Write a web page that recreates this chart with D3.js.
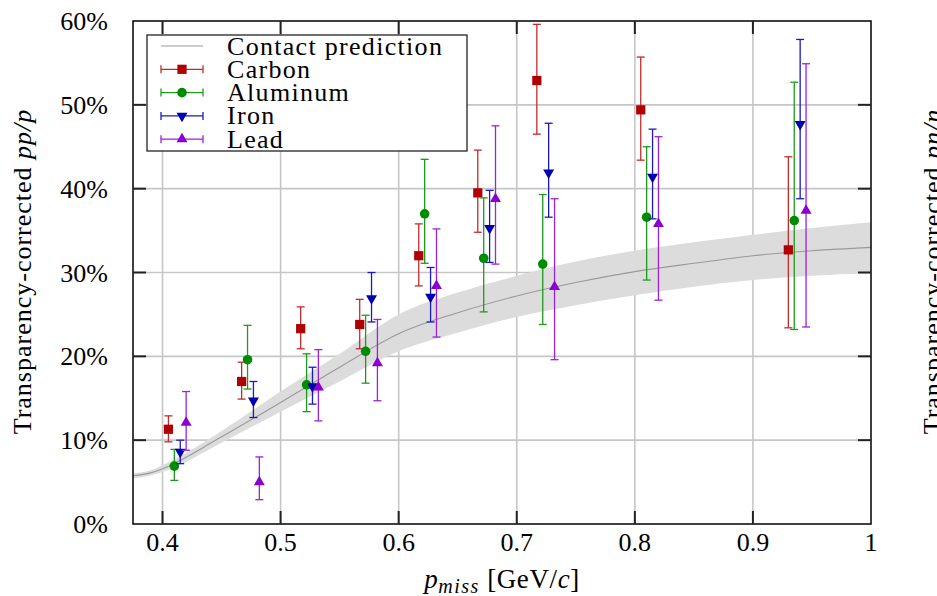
<!DOCTYPE html>
<html>
<head>
<meta charset="utf-8">
<script src="https://cdn.jsdelivr.net/npm/d3@7"></script>
<style>
  html, body { margin: 0; padding: 0; background: #fff; }
  svg { display: block; }
  text { font-family: "Liberation Serif", "DejaVu Serif", serif; fill: #000; }
</style>
</head>
<body>
<div id="root"><svg></svg></div>
<script>
const width = 937, height = 596;
const margin = {top: 21, right: 66, bottom: 72, left: 133};

// transparency-corrected ratio in percent
const carbonX  = [0.405, 0.467, 0.517, 0.567, 0.617, 0.667, 0.717, 0.805, 0.930];
const carbonY  = [11.3, 17.0, 23.3, 23.8, 32.0, 39.5, 52.9, 49.4, 32.7];
const carbonLo = [9.8, 14.9, 20.9, 20.9, 28.4, 34.8, 46.5, 43.4, 23.4];
const carbonHi = [12.9, 19.3, 25.9, 26.8, 35.8, 44.6, 59.6, 55.7, 43.8];

const aluminumX  = [0.410, 0.472, 0.522, 0.572, 0.622, 0.672, 0.722, 0.810, 0.935];
const aluminumY  = [6.9, 19.6, 16.6, 20.6, 37.0, 31.7, 31.0, 36.6, 36.2];
const aluminumLo = [5.2, 16.1, 13.4, 16.8, 31.1, 25.3, 23.8, 29.1, 23.2];
const aluminumHi = [8.9, 23.7, 20.3, 24.9, 43.5, 38.9, 39.3, 45.0, 52.7];

const ironX  = [0.415, 0.477, 0.527, 0.577, 0.627, 0.677, 0.727, 0.815, 0.940];
const ironY  = [8.6, 14.7, 16.4, 26.9, 27.1, 35.3, 41.9, 41.4, 47.7];
const ironLo = [7.2, 12.7, 14.3, 24.1, 24.1, 31.2, 36.6, 36.4, 38.8];
const ironHi = [10.0, 17.0, 18.7, 30.0, 30.6, 39.8, 47.8, 47.1, 57.8];

const leadX  = [0.420, 0.482, 0.532, 0.582, 0.632, 0.682, 0.732, 0.820, 0.945];
const leadY  = [12.1, 5.0, 16.3, 19.2, 28.4, 38.8, 28.3, 35.8, 37.4];
const leadLo = [8.8, 2.9, 12.3, 14.7, 22.3, 31.0, 19.6, 26.7, 23.5];
const leadHi = [15.8, 8.0, 20.8, 24.4, 35.2, 47.5, 38.8, 46.2, 54.9];

// contact prediction with its band
const predX  = [0.375, 0.39, 0.40, 0.45, 0.50, 0.55, 0.60, 0.65, 0.70, 0.75, 0.80, 0.85, 0.90, 0.95, 1.00];
const predY  = [5.75, 6.1, 6.6, 10.4, 14.5, 18.7, 22.7, 25.2, 27.2, 28.8, 30.1, 31.1, 32.0, 32.6, 33.0];
const predLo = [5.45, 5.8, 6.2, 9.7, 13.4, 17.0, 20.6, 22.8, 24.7, 26.1, 27.3, 28.3, 29.1, 29.6, 29.9];
const predHi = [6.05, 6.4, 7.0, 11.1, 15.8, 20.3, 25.0, 27.6, 29.6, 31.3, 32.6, 33.6, 34.5, 35.3, 36.0];

const xTicks = [0.4, 0.5, 0.6, 0.7, 0.8, 0.9, 1];
const yTicks = [0, 10, 20, 30, 40, 50, 60];

const series = [
    {name: 'Carbon',   x: carbonX,   y: carbonY,   lo: carbonLo,   hi: carbonHi,   mark: '#b00000', bar: '#c42a2a', sym: d3.symbolSquare,   size: 85, rot: 0},
    {name: 'Aluminum', x: aluminumX, y: aluminumY, lo: aluminumLo, hi: aluminumHi, mark: '#008c00', bar: '#1d9a1d', sym: d3.symbolCircle,   size: 72, rot: 0},
    {name: 'Iron',     x: ironX,     y: ironY,     lo: ironLo,     hi: ironHi,     mark: '#0000b0', bar: '#1a1ac0', sym: d3.symbolTriangle, size: 52, rot: 180},
    {name: 'Lead',     x: leadX,     y: leadY,     lo: leadLo,     hi: leadHi,     mark: '#8a00d0', bar: '#9a22dd', sym: d3.symbolTriangle, size: 52, rot: 0}
];

const x = d3.scaleLinear().domain([0.375, 1]).range([margin.left, width - margin.right]);
const y = d3.scaleLinear().domain([0, 60]).range([height - margin.bottom, margin.top]);

const svg = d3.select('#root').select('svg')
    .attr('width', width)
    .attr('height', height);

// grid
const grid = svg.append('g');
grid.selectAll('line.vx')
    .data(xTicks.slice(0, -1))
    .enter().append('line')
    .attr('x1', d => x(d)).attr('x2', d => x(d))
    .attr('y1', y(0)).attr('y2', y(60))
    .attr('stroke', '#c6c6c6').attr('stroke-width', 1.6);
grid.selectAll('line.hy')
    .data(yTicks.slice(1, -1))
    .enter().append('line')
    .attr('x1', x(0.375)).attr('x2', x(1))
    .attr('y1', d => y(d)).attr('y2', d => y(d))
    .attr('stroke', '#c6c6c6').attr('stroke-width', 1.6);

// prediction band and line
const pred = predX.map((d, i) => ({x: d, y: predY[i], lo: predLo[i], hi: predHi[i]}));
svg.append('path')
    .datum(pred)
    .attr('fill', '#dcdcdc')
    .attr('d', d3.area().x(d => x(d.x)).y0(d => y(d.lo)).y1(d => y(d.hi)).curve(d3.curveMonotoneX));
svg.append('path')
    .datum(pred)
    .attr('fill', 'none')
    .attr('stroke', '#9a9a9a')
    .attr('stroke-width', 1.1)
    .attr('d', d3.line().x(d => x(d.x)).y(d => y(d.y)).curve(d3.curveMonotoneX));

// data with error bars
const cap = 4;
series.forEach(s => {
    const pts = s.x.map((d, i) => ({x: d, y: s.y[i], lo: s.lo[i], hi: s.hi[i]}));
    const g = svg.append('g');
    const eb = g.selectAll('g.eb').data(pts).enter().append('g')
        .attr('stroke', s.bar).attr('stroke-width', 1.3);
    eb.append('line')
        .attr('x1', d => x(d.x)).attr('x2', d => x(d.x))
        .attr('y1', d => y(d.lo)).attr('y2', d => y(d.hi));
    eb.append('line')
        .attr('x1', d => x(d.x) - cap).attr('x2', d => x(d.x) + cap)
        .attr('y1', d => y(d.lo)).attr('y2', d => y(d.lo));
    eb.append('line')
        .attr('x1', d => x(d.x) - cap).attr('x2', d => x(d.x) + cap)
        .attr('y1', d => y(d.hi)).attr('y2', d => y(d.hi));
    g.selectAll('path').data(pts).enter().append('path')
        .attr('d', d3.symbol().type(s.sym).size(s.size))
        .attr('transform', d => `translate(${x(d.x)},${y(d.y)}) rotate(${s.rot})`)
        .attr('fill', s.mark);
});

// frame and inward ticks
svg.append('rect')
    .attr('x', x(0.375)).attr('y', y(60))
    .attr('width', x(1) - x(0.375)).attr('height', y(0) - y(60))
    .attr('fill', 'none').attr('stroke', '#000').attr('stroke-width', 1.5);

const tlen = 13;
const ticks = svg.append('g').attr('stroke', '#222').attr('stroke-width', 2);
xTicks.slice(0, -1).forEach(t => {
    ticks.append('line').attr('x1', x(t)).attr('x2', x(t)).attr('y1', y(0)).attr('y2', y(0) - tlen);
    ticks.append('line').attr('x1', x(t)).attr('x2', x(t)).attr('y1', y(60)).attr('y2', y(60) + tlen);
});
yTicks.slice(1, -1).forEach(t => {
    ticks.append('line').attr('x1', x(0.375)).attr('x2', x(0.375) + tlen).attr('y1', y(t)).attr('y2', y(t));
    ticks.append('line').attr('x1', x(1)).attr('x2', x(1) - tlen).attr('y1', y(t)).attr('y2', y(t));
});

// tick labels
svg.append('g').selectAll('text')
    .data(xTicks)
    .enter().append('text')
    .attr('x', d => x(d))
    .attr('y', 551)
    .attr('text-anchor', 'middle')
    .attr('font-size', 26)
    .text(d => d === 1 ? '1' : d.toFixed(1));
svg.append('g').selectAll('text')
    .data(yTicks)
    .enter().append('text')
    .attr('x', 108)
    .attr('y', d => y(d) + 9)
    .attr('text-anchor', 'end')
    .attr('font-size', 26)
    .text(d => d + '%');

// axis titles
const xl = svg.append('text')
    .attr('x', (x(0.375) + x(1)) / 2)
    .attr('y', 588)
    .attr('text-anchor', 'middle')
    .attr('font-size', 27)
    .attr('letter-spacing', 0.6);
xl.append('tspan').attr('font-style', 'italic').text('p');
xl.append('tspan').attr('font-style', 'italic').attr('font-size', 20).attr('dy', 5).attr('letter-spacing', 1.5).text('miss');
xl.append('tspan').attr('dy', -5).text(' [GeV/');
xl.append('tspan').attr('font-style', 'italic').text('c');
xl.append('tspan').text(']');

function yTitle(px, label) {
    const t = svg.append('text')
        .attr('transform', `translate(${px},${(y(0) + y(60)) / 2 - 1}) rotate(-90)`)
        .attr('text-anchor', 'middle')
        .attr('font-size', 26)
        .attr('letter-spacing', 1);
    t.append('tspan').text('Transparency-corrected ');
    t.append('tspan').attr('font-style', 'italic').text(label);
}
yTitle(31, 'pp/p');
yTitle(941, 'pn/n');

// legend
const lg = svg.append('g');
lg.append('rect')
    .attr('x', 147).attr('y', 35).attr('width', 320).attr('height', 116)
    .attr('fill', '#fff').attr('stroke', '#333').attr('stroke-width', 1.4);
const rowY = i => 46 + i * 23.3;
lg.append('line')
    .attr('x1', 161).attr('x2', 203).attr('y1', rowY(0)).attr('y2', rowY(0))
    .attr('stroke', '#9a9a9a').attr('stroke-width', 1.1);
lg.append('text').attr('x', 227).attr('y', rowY(0) + 8.5)
    .attr('font-size', 26).attr('letter-spacing', 1.3).text('Contact prediction');
series.forEach((s, i) => {
    const cy = rowY(i + 1);
    const r = lg.append('g').attr('stroke', s.bar).attr('stroke-width', 1.3);
    r.append('line').attr('x1', 161).attr('x2', 203).attr('y1', cy).attr('y2', cy);
    r.append('line').attr('x1', 161).attr('x2', 161).attr('y1', cy - cap).attr('y2', cy + cap);
    r.append('line').attr('x1', 203).attr('x2', 203).attr('y1', cy - cap).attr('y2', cy + cap);
    lg.append('path')
        .attr('d', d3.symbol().type(s.sym).size(s.size))
        .attr('transform', `translate(182,${cy}) rotate(${s.rot})`)
        .attr('fill', s.mark);
    lg.append('text').attr('x', 227).attr('y', cy + 8.5)
        .attr('font-size', 26).attr('letter-spacing', 1.3).text(s.name);
});
</script>
</body>
</html>
